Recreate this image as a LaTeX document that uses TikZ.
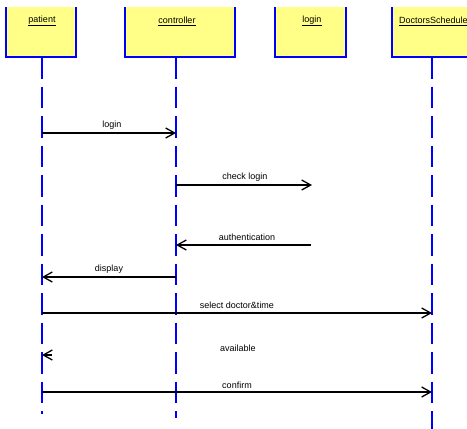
\documentclass[tikz,border=0pt]{standalone}
\usepackage{fontspec}
\setmainfont{Liberation Sans}
\usetikzlibrary{arrows.meta}
\definecolor{boxyellow}{RGB}{255,255,136}
\definecolor{lineblue}{RGB}{0,0,255}
\tikzset{
  objbox/.style={fill=boxyellow},
  objedge/.style={draw=lineblue, line width=2pt},
  lifeline/.style={draw=lineblue, line width=2pt, dash pattern=on 21.5pt off 8pt},
  msg/.style={draw=black, line width=1.3pt, -{Straight Barb[length=9pt,width=10pt,line width=1.3pt]}},
  msglabel/.style={font=\fontsize{9}{10}\selectfont, inner sep=0pt},
  objlabel/.style={font=\fontsize{9}{10}\selectfont, inner sep=0pt}
}
\begin{document}
\begin{tikzpicture}[x=1pt,y=-1pt]
\useasboundingbox (0,0) rectangle (467,429);
\clip (0,0) rectangle (467,429);
% object boxes
\fill[objbox] (6,7) rectangle (76,57);
\draw[objedge] (6,7) -- (6,57) -- (76,57) -- (76,7);
\fill[objbox] (125,7) rectangle (235,57);
\draw[objedge] (125,7) -- (125,57) -- (235,57) -- (235,7);
\fill[objbox] (275,7) rectangle (346,57);
\draw[objedge] (275,7) -- (275,57) -- (346,57) -- (346,7);
\fill[objbox] (392,7) rectangle (480,57);
\draw[objedge] (392,7) -- (392,57) -- (480,57);
\node[objlabel] (pl) at (42,21) {\underline{patient}};
\node[objlabel] (cl) at (177,21) {\underline{controller}};
\node[objlabel] (ll) at (312,21) {\underline{login}};
\node[objlabel, anchor=west] (dl) at (399,21) {\underline{DoctorsSchedule}};
% lifeline coordinates
\coordinate (pT) at (42,57);  \coordinate (pB) at (42,414);
\coordinate (cT) at (176,57); \coordinate (cB) at (176,418);
\coordinate (dT) at (432,57); \coordinate (dB) at (432,429);
\draw[lifeline] (pT) -- (pB);
\draw[lifeline] (cT) -- (cB);
\draw[lifeline] (dT) -- (dB);
% message endpoints
\coordinate (m1a) at (42,133);  \coordinate (m1b) at (176,133);
\coordinate (m2a) at (176,185); \coordinate (m2b) at (312,185);
\coordinate (m3a) at (311,245); \coordinate (m3b) at (176,245);
\coordinate (m4a) at (176,277); \coordinate (m4b) at (42,277);
\coordinate (m5a) at (42,313);  \coordinate (m5b) at (432,313);
\coordinate (m6a) at (52,355);  \coordinate (m6b) at (42,355);
\coordinate (m7a) at (42,392);  \coordinate (m7b) at (432,392);
\draw[msg] (m1a) -- (m1b);
\draw[msg] (m2a) -- (m2b);
\draw[msg] (m3a) -- (m3b);
\draw[msg] (m4a) -- (m4b);
\draw[msg] (m5a) -- (m5b);
\draw[-{Straight Barb[length=9pt,width=10pt,line width=1.3pt]}, line width=1.3pt, draw=black, shorten >=0pt] (m6a) ++(-0.01,0) -- (m6b);
\draw[msg, line width=2.8pt] (m7a) -- (m7b);
% labels
\node[msglabel] (t1) at (112,125) {login};
\node[msglabel] (t2) at (245,177) {check login};
\node[msglabel] (t3) at (247,237) {authentication};
\node[msglabel] (t4) at (109,269) {display};
\node[msglabel] (t5) at (237,305) {select doctor\&time};
\node[msglabel] (t6) at (238,348) {available};
\node[msglabel] (t7) at (237,385) {confirm};
\end{tikzpicture}
\end{document}
